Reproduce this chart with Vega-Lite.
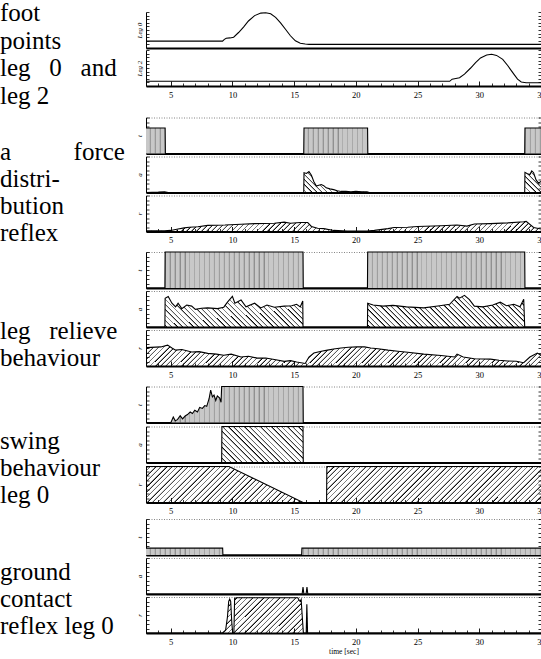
{
  "$schema": "https://vega.github.io/schema/vega-lite/v6.json",
  "padding": 0,
  "spacing": 2.5,
  "params": [
    {"name": "hatch", "value": [
      {"offset":0,"color":"#0000"},{"offset":0.008,"color":"#0000"},{"offset":0.0125,"color":"#000"},
      {"offset":0.0125,"color":"#0000"},{"offset":0.0205,"color":"#0000"},{"offset":0.025,"color":"#000"},
      {"offset":0.025,"color":"#0000"},{"offset":0.033,"color":"#0000"},{"offset":0.0375,"color":"#000"},
      {"offset":0.0375,"color":"#0000"},{"offset":0.0455,"color":"#0000"},{"offset":0.05,"color":"#000"},
      {"offset":0.05,"color":"#0000"},{"offset":0.058,"color":"#0000"},{"offset":0.0625,"color":"#000"},
      {"offset":0.0625,"color":"#0000"},{"offset":0.0705,"color":"#0000"},{"offset":0.075,"color":"#000"},
      {"offset":0.075,"color":"#0000"},{"offset":0.083,"color":"#0000"},{"offset":0.0875,"color":"#000"},
      {"offset":0.0875,"color":"#0000"},{"offset":0.0955,"color":"#0000"},{"offset":0.1,"color":"#000"},
      {"offset":0.1,"color":"#0000"},{"offset":0.108,"color":"#0000"},{"offset":0.1125,"color":"#000"},
      {"offset":0.1125,"color":"#0000"},{"offset":0.1205,"color":"#0000"},{"offset":0.125,"color":"#000"},
      {"offset":0.125,"color":"#0000"},{"offset":0.133,"color":"#0000"},{"offset":0.1375,"color":"#000"},
      {"offset":0.1375,"color":"#0000"},{"offset":0.1455,"color":"#0000"},{"offset":0.15,"color":"#000"},
      {"offset":0.15,"color":"#0000"},{"offset":0.158,"color":"#0000"},{"offset":0.1625,"color":"#000"},
      {"offset":0.1625,"color":"#0000"},{"offset":0.1705,"color":"#0000"},{"offset":0.175,"color":"#000"},
      {"offset":0.175,"color":"#0000"},{"offset":0.183,"color":"#0000"},{"offset":0.1875,"color":"#000"},
      {"offset":0.1875,"color":"#0000"},{"offset":0.1955,"color":"#0000"},{"offset":0.2,"color":"#000"},
      {"offset":0.2,"color":"#0000"},{"offset":0.208,"color":"#0000"},{"offset":0.2125,"color":"#000"},
      {"offset":0.2125,"color":"#0000"},{"offset":0.2205,"color":"#0000"},{"offset":0.225,"color":"#000"},
      {"offset":0.225,"color":"#0000"},{"offset":0.233,"color":"#0000"},{"offset":0.2375,"color":"#000"},
      {"offset":0.2375,"color":"#0000"},{"offset":0.2455,"color":"#0000"},{"offset":0.25,"color":"#000"},
      {"offset":0.25,"color":"#0000"},{"offset":0.258,"color":"#0000"},{"offset":0.2625,"color":"#000"},
      {"offset":0.2625,"color":"#0000"},{"offset":0.2705,"color":"#0000"},{"offset":0.275,"color":"#000"},
      {"offset":0.275,"color":"#0000"},{"offset":0.283,"color":"#0000"},{"offset":0.2875,"color":"#000"},
      {"offset":0.2875,"color":"#0000"},{"offset":0.2955,"color":"#0000"},{"offset":0.3,"color":"#000"},
      {"offset":0.3,"color":"#0000"},{"offset":0.308,"color":"#0000"},{"offset":0.3125,"color":"#000"},
      {"offset":0.3125,"color":"#0000"},{"offset":0.3205,"color":"#0000"},{"offset":0.325,"color":"#000"},
      {"offset":0.325,"color":"#0000"},{"offset":0.333,"color":"#0000"},{"offset":0.3375,"color":"#000"},
      {"offset":0.3375,"color":"#0000"},{"offset":0.3455,"color":"#0000"},{"offset":0.35,"color":"#000"},
      {"offset":0.35,"color":"#0000"},{"offset":0.358,"color":"#0000"},{"offset":0.3625,"color":"#000"},
      {"offset":0.3625,"color":"#0000"},{"offset":0.3705,"color":"#0000"},{"offset":0.375,"color":"#000"},
      {"offset":0.375,"color":"#0000"},{"offset":0.383,"color":"#0000"},{"offset":0.3875,"color":"#000"},
      {"offset":0.3875,"color":"#0000"},{"offset":0.3955,"color":"#0000"},{"offset":0.4,"color":"#000"},
      {"offset":0.4,"color":"#0000"},{"offset":0.408,"color":"#0000"},{"offset":0.4125,"color":"#000"},
      {"offset":0.4125,"color":"#0000"},{"offset":0.4205,"color":"#0000"},{"offset":0.425,"color":"#000"},
      {"offset":0.425,"color":"#0000"},{"offset":0.433,"color":"#0000"},{"offset":0.4375,"color":"#000"},
      {"offset":0.4375,"color":"#0000"},{"offset":0.4455,"color":"#0000"},{"offset":0.45,"color":"#000"},
      {"offset":0.45,"color":"#0000"},{"offset":0.458,"color":"#0000"},{"offset":0.4625,"color":"#000"},
      {"offset":0.4625,"color":"#0000"},{"offset":0.4705,"color":"#0000"},{"offset":0.475,"color":"#000"},
      {"offset":0.475,"color":"#0000"},{"offset":0.483,"color":"#0000"},{"offset":0.4875,"color":"#000"},
      {"offset":0.4875,"color":"#0000"},{"offset":0.4955,"color":"#0000"},{"offset":0.5,"color":"#000"},
      {"offset":0.5,"color":"#0000"},{"offset":0.508,"color":"#0000"},{"offset":0.5125,"color":"#000"},
      {"offset":0.5125,"color":"#0000"},{"offset":0.5205,"color":"#0000"},{"offset":0.525,"color":"#000"},
      {"offset":0.525,"color":"#0000"},{"offset":0.533,"color":"#0000"},{"offset":0.5375,"color":"#000"},
      {"offset":0.5375,"color":"#0000"},{"offset":0.5455,"color":"#0000"},{"offset":0.55,"color":"#000"},
      {"offset":0.55,"color":"#0000"},{"offset":0.558,"color":"#0000"},{"offset":0.5625,"color":"#000"},
      {"offset":0.5625,"color":"#0000"},{"offset":0.5705,"color":"#0000"},{"offset":0.575,"color":"#000"},
      {"offset":0.575,"color":"#0000"},{"offset":0.583,"color":"#0000"},{"offset":0.5875,"color":"#000"},
      {"offset":0.5875,"color":"#0000"},{"offset":0.5955,"color":"#0000"},{"offset":0.6,"color":"#000"},
      {"offset":0.6,"color":"#0000"},{"offset":0.608,"color":"#0000"},{"offset":0.6125,"color":"#000"},
      {"offset":0.6125,"color":"#0000"},{"offset":0.6205,"color":"#0000"},{"offset":0.625,"color":"#000"},
      {"offset":0.625,"color":"#0000"},{"offset":0.633,"color":"#0000"},{"offset":0.6375,"color":"#000"},
      {"offset":0.6375,"color":"#0000"},{"offset":0.6455,"color":"#0000"},{"offset":0.65,"color":"#000"},
      {"offset":0.65,"color":"#0000"},{"offset":0.658,"color":"#0000"},{"offset":0.6625,"color":"#000"},
      {"offset":0.6625,"color":"#0000"},{"offset":0.6705,"color":"#0000"},{"offset":0.675,"color":"#000"},
      {"offset":0.675,"color":"#0000"},{"offset":0.683,"color":"#0000"},{"offset":0.6875,"color":"#000"},
      {"offset":0.6875,"color":"#0000"},{"offset":0.6955,"color":"#0000"},{"offset":0.7,"color":"#000"},
      {"offset":0.7,"color":"#0000"},{"offset":0.708,"color":"#0000"},{"offset":0.7125,"color":"#000"},
      {"offset":0.7125,"color":"#0000"},{"offset":0.7205,"color":"#0000"},{"offset":0.725,"color":"#000"},
      {"offset":0.725,"color":"#0000"},{"offset":0.733,"color":"#0000"},{"offset":0.7375,"color":"#000"},
      {"offset":0.7375,"color":"#0000"},{"offset":0.7455,"color":"#0000"},{"offset":0.75,"color":"#000"},
      {"offset":0.75,"color":"#0000"},{"offset":0.758,"color":"#0000"},{"offset":0.7625,"color":"#000"},
      {"offset":0.7625,"color":"#0000"},{"offset":0.7705,"color":"#0000"},{"offset":0.775,"color":"#000"},
      {"offset":0.775,"color":"#0000"},{"offset":0.783,"color":"#0000"},{"offset":0.7875,"color":"#000"},
      {"offset":0.7875,"color":"#0000"},{"offset":0.7955,"color":"#0000"},{"offset":0.8,"color":"#000"},
      {"offset":0.8,"color":"#0000"},{"offset":0.808,"color":"#0000"},{"offset":0.8125,"color":"#000"},
      {"offset":0.8125,"color":"#0000"},{"offset":0.8205,"color":"#0000"},{"offset":0.825,"color":"#000"},
      {"offset":0.825,"color":"#0000"},{"offset":0.833,"color":"#0000"},{"offset":0.8375,"color":"#000"},
      {"offset":0.8375,"color":"#0000"},{"offset":0.8455,"color":"#0000"},{"offset":0.85,"color":"#000"},
      {"offset":0.85,"color":"#0000"},{"offset":0.858,"color":"#0000"},{"offset":0.8625,"color":"#000"},
      {"offset":0.8625,"color":"#0000"},{"offset":0.8705,"color":"#0000"},{"offset":0.875,"color":"#000"},
      {"offset":0.875,"color":"#0000"},{"offset":0.883,"color":"#0000"},{"offset":0.8875,"color":"#000"},
      {"offset":0.8875,"color":"#0000"},{"offset":0.8955,"color":"#0000"},{"offset":0.9,"color":"#000"},
      {"offset":0.9,"color":"#0000"},{"offset":0.908,"color":"#0000"},{"offset":0.9125,"color":"#000"},
      {"offset":0.9125,"color":"#0000"},{"offset":0.9205,"color":"#0000"},{"offset":0.925,"color":"#000"},
      {"offset":0.925,"color":"#0000"},{"offset":0.933,"color":"#0000"},{"offset":0.9375,"color":"#000"},
      {"offset":0.9375,"color":"#0000"},{"offset":0.9455,"color":"#0000"},{"offset":0.95,"color":"#000"},
      {"offset":0.95,"color":"#0000"},{"offset":0.958,"color":"#0000"},{"offset":0.9625,"color":"#000"},
      {"offset":0.9625,"color":"#0000"},{"offset":0.9705,"color":"#0000"},{"offset":0.975,"color":"#000"},
      {"offset":0.975,"color":"#0000"},{"offset":0.983,"color":"#0000"},{"offset":0.9875,"color":"#000"},
      {"offset":0.9875,"color":"#0000"},{"offset":0.9955,"color":"#0000"},{"offset":1,"color":"#000"},
      {"offset":1,"color":"#0000"}
    ]}
  ],
  "config": {
    "view": {"stroke": null},
    "font": "Liberation Serif, Times New Roman, serif",
    "axis": {"grid": false, "domainColor": "black", "tickColor": "black", "tickWidth": 0.8, "labelColor": "black", "titleColor": "black", "labelFont": "Liberation Serif, Times New Roman, serif", "titleFont": "Liberation Serif, Times New Roman, serif", "titleFontWeight": "normal", "labelFontSize": 8.5, "titleFontSize": 7}
  },
  "vconcat": [
    {
      "spacing": 7,
      "hconcat": [
        {
          "width": 128, "height": 101.5,
          "data": {"values": [{"label": "foot\npoints\nleg\u00a0\u00a0\u00a00\u00a0\u00a0\u00a0and\nleg 2"}]},
          "mark": {"type": "text", "align": "left", "baseline": "top", "lineBreak": "\n", "lineHeight": 27.5, "font": "Liberation Serif, Times New Roman, serif", "fontSize": 25, "color": "black"},
          "encoding": {
            "text": {"field": "label"},
            "x": {"datum": 0, "type": "quantitative", "scale": {"domain": [0, 1]}, "axis": null},
            "y": {"datum": -0.108, "type": "quantitative", "scale": {"domain": [0, 1], "reverse": true}, "axis": null}
          }
        },
        {
          "spacing": 0,
          "vconcat": [
            {
              "width": 395, "height": 36,
              "data": {"values": [{"x":3,"y":0.19},{"x":9.2,"y":0.19},{"x":9.35,"y":0.24},{"x":9.5,"y":0.27},{"x":9.8,"y":0.28},{"x":10.1,"y":0.3},{"x":10.5,"y":0.43},{"x":10.9,"y":0.58},{"x":11.3,"y":0.75},{"x":11.8,"y":0.9},{"x":12.3,"y":0.97},{"x":12.7,"y":0.98},{"x":13.1,"y":0.95},{"x":13.5,"y":0.85},{"x":13.9,"y":0.7},{"x":14.3,"y":0.52},{"x":14.7,"y":0.34},{"x":15.1,"y":0.2},{"x":15.5,"y":0.13},{"x":15.9,"y":0.11},{"x":16.2,"y":0.1},{"x":35,"y":0.1}]},
              "layer": [
                {"mark": {"type": "line", "color": "black", "strokeWidth": 1.1},
                 "encoding": {
                   "x": {"field": "x", "type": "quantitative", "scale": {"domain": [3, 35], "nice": false, "zero": false}, "axis": {"orient":"bottom","domainWidth":1.8,"ticks":false,"labels":false,"title":null}},
                   "y": {"field": "y", "type": "quantitative", "scale": {"domain": [0, 1], "nice": false}, "axis": {"orient":"left","domainWidth":1,"values":[0,0.1,0.2,0.3,0.4,0.5,0.6,0.7,0.8,0.9,1],"tickSize":-3,"labels":false,"title":"Leg 0","titleFontStyle":"italic","titlePadding":3}}
                 }},
                {"mark": {"type": "line", "opacity": 0},
                 "encoding": {
                   "x": {"field": "x", "type": "quantitative", "axis": {"orient":"top","domainOpacity":0,"offset":12,"ticks":false,"labels":false,"title":null}},
                   "y": {"field": "y", "type": "quantitative", "axis": {"orient":"right","domainWidth":1,"values":[0,0.1,0.2,0.3,0.4,0.5,0.6,0.7,0.8,0.9,1],"tickSize":-3,"labels":false,"title":null}}
                 }}
              ],
              "resolve": {"axis": {"x": "independent", "y": "independent"}}
            },
            {
              "width": 395, "height": 36,
              "data": {"values": [{"x":3,"y":0.13},{"x":27.6,"y":0.13},{"x":27.8,"y":0.19},{"x":28.1,"y":0.21},{"x":28.4,"y":0.23},{"x":28.8,"y":0.33},{"x":29.3,"y":0.5},{"x":29.7,"y":0.65},{"x":30.1,"y":0.78},{"x":30.6,"y":0.86},{"x":31,"y":0.88},{"x":31.4,"y":0.85},{"x":31.9,"y":0.74},{"x":32.3,"y":0.57},{"x":32.8,"y":0.33},{"x":33.1,"y":0.19},{"x":33.4,"y":0.11},{"x":33.8,"y":0.09},{"x":35,"y":0.09}]},
              "layer": [
                {"mark": {"type": "line", "color": "black", "strokeWidth": 1.1},
                 "encoding": {
                   "x": {"field": "x", "type": "quantitative", "scale": {"domain": [3, 35], "nice": false, "zero": false}, "axis": {"orient":"bottom","domainWidth":1.8,"values":[5,10,15,20,25,30,35],"tickSize":-5,"tickWidth":0.9,"labelPadding":9,"labelFlush":false,"labelOverlap":false,"title":null}},
                   "y": {"field": "y", "type": "quantitative", "scale": {"domain": [0, 1], "nice": false}, "axis": {"orient":"left","domainWidth":1,"values":[0,0.1,0.2,0.3,0.4,0.5,0.6,0.7,0.8,0.9,1],"tickSize":-3,"labels":false,"title":"Leg 2","titleFontStyle":"italic","titlePadding":3}}
                 }},
                {"mark": {"type": "line", "opacity": 0},
                 "encoding": {
                   "x": {"field": "x", "type": "quantitative", "axis": {"orient":"bottom","domain":false,"values":[4,6,7,8,9,11,12,13,14,16,17,18,19,21,22,23,24,26,27,28,29,31,32,33,34],"tickSize":-3,"labels":false,"title":null}},
                   "y": {"field": "y", "type": "quantitative", "axis": {"orient":"right","domainWidth":1,"values":[0,0.1,0.2,0.3,0.4,0.5,0.6,0.7,0.8,0.9,1],"tickSize":-3,"labels":false,"title":null}}
                 }}
              ],
              "resolve": {"axis": {"x": "independent", "y": "independent"}}
            }
          ]
        }
      ]
    },
    {
      "spacing": 7,
      "hconcat": [
        {
          "width": 128, "height": 129,
          "data": {"values": [{"label": "a\u00a0\u00a0\u00a0\u00a0\u00a0\u00a0\u00a0\u00a0\u00a0\u00a0force\ndistri-\nbution\nreflex"}]},
          "mark": {"type": "text", "clip": true, "align": "left", "baseline": "top", "lineBreak": "\n", "lineHeight": 27, "font": "Liberation Serif, Times New Roman, serif", "fontSize": 25, "color": "black"},
          "encoding": {
            "text": {"field": "label"},
            "x": {"datum": 0, "type": "quantitative", "scale": {"domain": [0, 1]}, "axis": null},
            "y": {"datum": 0.178, "type": "quantitative", "scale": {"domain": [0, 1], "reverse": true}, "axis": null}
          }
        },
        {
          "spacing": -2,
          "vconcat": [
            {
              "width": 395, "height": 36,
              "data": {"values": [{"x":3,"y":0.71},{"x":4.55,"y":0.71},{"x":4.57,"y":0},{"x":15.78,"y":0},{"x":15.8,"y":0.71},{"x":20.95,"y":0.71},{"x":20.97,"y":0},{"x":33.68,"y":0},{"x":33.7,"y":0.71},{"x":35,"y":0.71}]},
              "layer": [
                {"mark": {"type": "area", "color": "#c8c8c8"},
                 "encoding": {
                   "x": {"field": "x", "type": "quantitative", "scale": {"domain": [3, 35], "nice": false, "zero": false}, "axis": {"orient":"bottom","domainWidth":1.8,"ticks":false,"labels":false,"title":null}},
                   "y": {"field": "y", "type": "quantitative", "stack": null, "scale": {"domain": [0, 1], "nice": false}, "axis": {"orient":"left","domainWidth":1,"values":[0,0.125,0.25,0.375,0.5,0.625,0.75,0.875,1],"tickSize":-3,"labels":false,"title":"t","titleFontStyle":"italic","titlePadding":3}}
                 }},
                {"mark": {"type": "area", "fill": {"expr": "{gradient: 'linear', x1: 0, y1: 0, x2: 1, y2: 0, stops: hatch}"}, "fillOpacity": 0.3},
                 "encoding": {"x": {"field": "x", "type": "quantitative", "axis": null}, "y": {"field": "y", "type": "quantitative", "stack": null, "axis": null}}},
                {"mark": {"type": "line", "color": "black", "strokeWidth": 1.1},
                 "encoding": {
                   "x": {"field": "x", "type": "quantitative", "axis": {"orient":"top","domainColor":"#666","domainWidth":0.8,"domainDash":[1,1.5],"ticks":false,"labels":false,"title":null}},
                   "y": {"field": "y", "type": "quantitative", "axis": {"orient":"right","domainWidth":1,"values":[0,0.125,0.25,0.375,0.5,0.625,0.75,0.875,1],"tickSize":-3,"labels":false,"title":null}}
                 }}
              ],
              "resolve": {"axis": {"x": "independent", "y": "independent"}}
            },
            {
              "width": 395, "height": 36,
              "data": {"values": [{"x":3,"y":0},{"x":4,"y":0.01},{"x":4.5,"y":0.02},{"x":4.8,"y":0},{"x":15.78,"y":0},{"x":15.8,"y":0.55},{"x":16,"y":0.53},{"x":16.2,"y":0.58},{"x":16.4,"y":0.48},{"x":16.6,"y":0.3},{"x":16.8,"y":0.18},{"x":17,"y":0.2},{"x":17.2,"y":0.22},{"x":17.4,"y":0.19},{"x":17.6,"y":0.13},{"x":17.9,"y":0.1},{"x":18.2,"y":0.08},{"x":18.5,"y":0.05},{"x":18.8,"y":0.03},{"x":19.2,"y":0.03},{"x":19.6,"y":0.02},{"x":20,"y":0.03},{"x":20.5,"y":0.02},{"x":20.9,"y":0.02},{"x":21.1,"y":0},{"x":33.68,"y":0},{"x":33.7,"y":0.56},{"x":33.9,"y":0.52},{"x":34.1,"y":0.5},{"x":34.25,"y":0.6},{"x":34.4,"y":0.55},{"x":34.6,"y":0.35},{"x":34.8,"y":0.26},{"x":35,"y":0.31}]},
              "layer": [
                {"mark": {"type": "area", "fill": {"expr": "{gradient: 'linear', x1: 0, y1: 1, x2: 1.0516, y2: 0.9425, stops: hatch}"}},
                 "encoding": {
                   "x": {"field": "x", "type": "quantitative", "scale": {"domain": [3, 35], "nice": false, "zero": false}, "axis": {"orient":"bottom","domainWidth":1.8,"ticks":false,"labels":false,"title":null}},
                   "y": {"field": "y", "type": "quantitative", "stack": null, "scale": {"domain": [0, 1], "nice": false}, "axis": {"orient":"left","domainWidth":1,"values":[0,0.125,0.25,0.375,0.5,0.625,0.75,0.875,1],"tickSize":-3,"labels":false,"title":"a","titleFontStyle":"italic","titlePadding":3}}
                 }},
                {"mark": {"type": "line", "color": "black", "strokeWidth": 1.1},
                 "encoding": {
                   "x": {"field": "x", "type": "quantitative", "axis": {"orient":"top","domainColor":"#666","domainWidth":0.8,"domainDash":[1,1.5],"ticks":false,"labels":false,"title":null}},
                   "y": {"field": "y", "type": "quantitative", "axis": {"orient":"right","domainWidth":1,"values":[0,0.125,0.25,0.375,0.5,0.625,0.75,0.875,1],"tickSize":-3,"labels":false,"title":null}}
                 }}
              ],
              "resolve": {"axis": {"x": "independent", "y": "independent"}}
            },
            {
              "width": 395, "height": 36,
              "data": {"values": [{"x":3,"y":0.02},{"x":4.5,"y":0.02},{"x":5,"y":0.03},{"x":5.6,"y":0.07},{"x":6.1,"y":0.1},{"x":6.5,"y":0.12},{"x":7.2,"y":0.13},{"x":8,"y":0.17},{"x":9.4,"y":0.18},{"x":10.7,"y":0.2},{"x":11.8,"y":0.22},{"x":13.4,"y":0.23},{"x":14.2,"y":0.26},{"x":14.7,"y":0.23},{"x":15.5,"y":0.25},{"x":16.1,"y":0.25},{"x":16.4,"y":0.14},{"x":16.9,"y":0.09},{"x":17.4,"y":0.08},{"x":18.2,"y":0.03},{"x":19.3,"y":0.01},{"x":20.9,"y":0.01},{"x":21.5,"y":0.03},{"x":22.6,"y":0.08},{"x":23.1,"y":0.11},{"x":24.2,"y":0.12},{"x":25,"y":0.14},{"x":26.9,"y":0.16},{"x":28.2,"y":0.18},{"x":29,"y":0.15},{"x":29.6,"y":0.21},{"x":30.9,"y":0.22},{"x":32.3,"y":0.24},{"x":33.6,"y":0.27},{"x":33.8,"y":0.28},{"x":34.4,"y":0.11},{"x":35,"y":0.07}]},
              "layer": [
                {"mark": {"type": "area", "fill": {"expr": "{gradient: 'linear', x1: 0, y1: 0, x2: 1.0246, y2: 0.0259, stops: hatch}"}},
                 "encoding": {
                   "x": {"field": "x", "type": "quantitative", "scale": {"domain": [3, 35], "nice": false, "zero": false}, "axis": {"orient":"bottom","domainWidth":1.8,"values":[5,10,15,20,25,30,35],"tickSize":-5,"tickWidth":0.9,"labelPadding":9,"labelFlush":false,"labelOverlap":false,"title":null}},
                   "y": {"field": "y", "type": "quantitative", "stack": null, "scale": {"domain": [0, 1], "nice": false}, "axis": {"orient":"left","domainWidth":1,"values":[0,0.125,0.25,0.375,0.5,0.625,0.75,0.875,1],"tickSize":-3,"labels":false,"title":"r","titleFontStyle":"italic","titlePadding":3}}
                 }},
                {"mark": {"type": "line", "color": "black", "strokeWidth": 1.1},
                 "encoding": {
                   "x": {"field": "x", "type": "quantitative", "axis": {"orient":"top","domainColor":"#666","domainWidth":0.8,"domainDash":[1,1.5],"ticks":false,"labels":false,"title":null}},
                   "y": {"field": "y", "type": "quantitative", "axis": {"orient":"right","domainWidth":1,"values":[0,0.125,0.25,0.375,0.5,0.625,0.75,0.875,1],"tickSize":-3,"labels":false,"title":null}}
                 }},
                {"mark": {"type": "line", "opacity": 0},
                 "encoding": {
                   "x": {"field": "x", "type": "quantitative", "axis": {"orient":"bottom","domain":false,"values":[4,6,7,8,9,11,12,13,14,16,17,18,19,21,22,23,24,26,27,28,29,31,32,33,34],"tickSize":-3,"labels":false,"title":null}},
                   "y": {"field": "y", "type": "quantitative", "axis": null}
                 }}
              ],
              "resolve": {"axis": {"x": "independent", "y": "independent"}}
            }
          ]
        }
      ]
    },
    {
      "spacing": 7,
      "hconcat": [
        {
          "width": 128, "height": 129,
          "data": {"values": [{"label": "leg\u00a0\u00a0\u00a0relieve\nbehaviour"}]},
          "mark": {"type": "text", "clip": true, "align": "left", "baseline": "top", "lineBreak": "\n", "lineHeight": 27, "font": "Liberation Serif, Times New Roman, serif", "fontSize": 25, "color": "black"},
          "encoding": {
            "text": {"field": "label"},
            "x": {"datum": 0, "type": "quantitative", "scale": {"domain": [0, 1]}, "axis": null},
            "y": {"datum": 0.519, "type": "quantitative", "scale": {"domain": [0, 1], "reverse": true}, "axis": null}
          }
        },
        {
          "spacing": -2,
          "vconcat": [
            {
              "width": 395, "height": 36,
              "data": {"values": [{"x":3,"y":0},{"x":4.53,"y":0},{"x":4.55,"y":1},{"x":15.72,"y":1},{"x":15.74,"y":0},{"x":20.94,"y":0},{"x":20.96,"y":1},{"x":33.68,"y":1},{"x":33.7,"y":0},{"x":35,"y":0}]},
              "layer": [
                {"mark": {"type": "area", "color": "#c8c8c8"},
                 "encoding": {
                   "x": {"field": "x", "type": "quantitative", "scale": {"domain": [3, 35], "nice": false, "zero": false}, "axis": {"orient":"bottom","domainWidth":1.8,"ticks":false,"labels":false,"title":null}},
                   "y": {"field": "y", "type": "quantitative", "stack": null, "scale": {"domain": [0, 1], "nice": false}, "axis": {"orient":"left","domainWidth":1,"values":[0,0.125,0.25,0.375,0.5,0.625,0.75,0.875,1],"tickSize":-3,"labels":false,"title":"t","titleFontStyle":"italic","titlePadding":3}}
                 }},
                {"mark": {"type": "area", "fill": {"expr": "{gradient: 'linear', x1: 0, y1: 0, x2: 1, y2: 0, stops: hatch}"}, "fillOpacity": 0.3},
                 "encoding": {"x": {"field": "x", "type": "quantitative", "axis": null}, "y": {"field": "y", "type": "quantitative", "stack": null, "axis": null}}},
                {"mark": {"type": "line", "color": "black", "strokeWidth": 1.1},
                 "encoding": {
                   "x": {"field": "x", "type": "quantitative", "axis": {"orient":"top","domainColor":"#666","domainWidth":0.8,"domainDash":[1,1.5],"ticks":false,"labels":false,"title":null}},
                   "y": {"field": "y", "type": "quantitative", "axis": {"orient":"right","domainWidth":1,"values":[0,0.125,0.25,0.375,0.5,0.625,0.75,0.875,1],"tickSize":-3,"labels":false,"title":null}}
                 }}
              ],
              "resolve": {"axis": {"x": "independent", "y": "independent"}}
            },
            {
              "width": 395, "height": 36,
              "data": {"values": [{"x":3,"y":0},{"x":4.53,"y":0},{"x":4.55,"y":0.8},{"x":4.8,"y":0.85},{"x":5.1,"y":0.66},{"x":5.4,"y":0.56},{"x":5.6,"y":0.66},{"x":5.9,"y":0.51},{"x":6.3,"y":0.61},{"x":6.7,"y":0.58},{"x":7,"y":0.49},{"x":7.5,"y":0.52},{"x":8,"y":0.53},{"x":8.8,"y":0.51},{"x":9.3,"y":0.55},{"x":9.6,"y":0.69},{"x":10,"y":0.85},{"x":10.2,"y":0.66},{"x":10.7,"y":0.75},{"x":11.1,"y":0.56},{"x":11.8,"y":0.66},{"x":12.3,"y":0.53},{"x":12.8,"y":0.61},{"x":13.4,"y":0.55},{"x":14.2,"y":0.58},{"x":14.8,"y":0.59},{"x":15.2,"y":0.63},{"x":15.5,"y":0.56},{"x":15.7,"y":0.72},{"x":15.72,"y":0},{"x":20.94,"y":0},{"x":20.96,"y":0.66},{"x":21.4,"y":0.61},{"x":22.2,"y":0.58},{"x":23,"y":0.6},{"x":24.1,"y":0.56},{"x":25.5,"y":0.53},{"x":26.8,"y":0.59},{"x":27.6,"y":0.63},{"x":28.2,"y":0.85},{"x":28.4,"y":0.8},{"x":28.8,"y":0.88},{"x":29.2,"y":0.76},{"x":29.6,"y":0.58},{"x":30.3,"y":0.56},{"x":31.1,"y":0.61},{"x":31.7,"y":0.69},{"x":32.2,"y":0.59},{"x":32.8,"y":0.63},{"x":33.3,"y":0.56},{"x":33.6,"y":0.77},{"x":33.68,"y":0},{"x":35,"y":0}]},
              "layer": [
                {"mark": {"type": "area", "fill": {"expr": "{gradient: 'linear', x1: 0, y1: 1, x2: 1.0734, y2: 0.9138, stops: hatch}"}},
                 "encoding": {
                   "x": {"field": "x", "type": "quantitative", "scale": {"domain": [3, 35], "nice": false, "zero": false}, "axis": {"orient":"bottom","domainWidth":1.8,"ticks":false,"labels":false,"title":null}},
                   "y": {"field": "y", "type": "quantitative", "stack": null, "scale": {"domain": [0, 1], "nice": false}, "axis": {"orient":"left","domainWidth":1,"values":[0,0.125,0.25,0.375,0.5,0.625,0.75,0.875,1],"tickSize":-3,"labels":false,"title":"a","titleFontStyle":"italic","titlePadding":3}}
                 }},
                {"mark": {"type": "line", "color": "black", "strokeWidth": 1.1},
                 "encoding": {
                   "x": {"field": "x", "type": "quantitative", "axis": {"orient":"top","domainColor":"#666","domainWidth":0.8,"domainDash":[1,1.5],"ticks":false,"labels":false,"title":null}},
                   "y": {"field": "y", "type": "quantitative", "axis": {"orient":"right","domainWidth":1,"values":[0,0.125,0.25,0.375,0.5,0.625,0.75,0.875,1],"tickSize":-3,"labels":false,"title":null}}
                 }}
              ],
              "resolve": {"axis": {"x": "independent", "y": "independent"}}
            },
            {
              "width": 395, "height": 36,
              "data": {"values": [{"x":3,"y":0.51},{"x":4.2,"y":0.53},{"x":4.75,"y":0.58},{"x":5.1,"y":0.5},{"x":5.4,"y":0.44},{"x":5.9,"y":0.46},{"x":6.7,"y":0.39},{"x":7.3,"y":0.4},{"x":8,"y":0.35},{"x":8.7,"y":0.33},{"x":9.3,"y":0.3},{"x":9.9,"y":0.33},{"x":10.7,"y":0.25},{"x":11.3,"y":0.27},{"x":12,"y":0.22},{"x":12.7,"y":0.22},{"x":13.4,"y":0.18},{"x":14.2,"y":0.13},{"x":14.7,"y":0.15},{"x":15.2,"y":0.11},{"x":15.9,"y":0.07},{"x":16.2,"y":0.25},{"x":16.6,"y":0.36},{"x":17.2,"y":0.41},{"x":17.7,"y":0.44},{"x":18.2,"y":0.47},{"x":18.8,"y":0.5},{"x":19.4,"y":0.52},{"x":20.1,"y":0.53},{"x":20.7,"y":0.53},{"x":21.2,"y":0.5},{"x":21.8,"y":0.48},{"x":22.6,"y":0.44},{"x":23.4,"y":0.41},{"x":24.2,"y":0.38},{"x":25.5,"y":0.33},{"x":26.9,"y":0.29},{"x":28,"y":0.25},{"x":28.2,"y":0.33},{"x":28.7,"y":0.25},{"x":29.6,"y":0.2},{"x":30.9,"y":0.19},{"x":31.6,"y":0.16},{"x":32.3,"y":0.14},{"x":33,"y":0.13},{"x":33.6,"y":0.09},{"x":34.1,"y":0.25},{"x":34.7,"y":0.36},{"x":35,"y":0.3}]},
              "layer": [
                {"mark": {"type": "area", "fill": {"expr": "{gradient: 'linear', x1: 0, y1: 0, x2: 1.0502, y2: 0.0559, stops: hatch}"}},
                 "encoding": {
                   "x": {"field": "x", "type": "quantitative", "scale": {"domain": [3, 35], "nice": false, "zero": false}, "axis": {"orient":"bottom","domainWidth":1.8,"values":[5,10,15,20,25,30,35],"tickSize":-5,"tickWidth":0.9,"labelPadding":9,"labelFlush":false,"labelOverlap":false,"title":null}},
                   "y": {"field": "y", "type": "quantitative", "stack": null, "scale": {"domain": [0, 1], "nice": false}, "axis": {"orient":"left","domainWidth":1,"values":[0,0.125,0.25,0.375,0.5,0.625,0.75,0.875,1],"tickSize":-3,"labels":false,"title":"r","titleFontStyle":"italic","titlePadding":3}}
                 }},
                {"mark": {"type": "line", "color": "black", "strokeWidth": 1.1},
                 "encoding": {
                   "x": {"field": "x", "type": "quantitative", "axis": {"orient":"top","domainColor":"#666","domainWidth":0.8,"domainDash":[1,1.5],"ticks":false,"labels":false,"title":null}},
                   "y": {"field": "y", "type": "quantitative", "axis": {"orient":"right","domainWidth":1,"values":[0,0.125,0.25,0.375,0.5,0.625,0.75,0.875,1],"tickSize":-3,"labels":false,"title":null}}
                 }},
                {"mark": {"type": "line", "opacity": 0},
                 "encoding": {
                   "x": {"field": "x", "type": "quantitative", "axis": {"orient":"bottom","domain":false,"values":[4,6,7,8,9,11,12,13,14,16,17,18,19,21,22,23,24,26,27,28,29,31,32,33,34],"tickSize":-3,"labels":false,"title":null}},
                   "y": {"field": "y", "type": "quantitative", "axis": null}
                 }}
              ],
              "resolve": {"axis": {"x": "independent", "y": "independent"}}
            }
          ]
        }
      ]
    },
    {
      "spacing": 7,
      "hconcat": [
        {
          "width": 128, "height": 129,
          "data": {"values": [{"label": "swing\nbehaviour\nleg 0"}]},
          "mark": {"type": "text", "clip": true, "align": "left", "baseline": "top", "lineBreak": "\n", "lineHeight": 27, "font": "Liberation Serif, Times New Roman, serif", "fontSize": 25, "color": "black"},
          "encoding": {
            "text": {"field": "label"},
            "x": {"datum": 0, "type": "quantitative", "scale": {"domain": [0, 1]}, "axis": null},
            "y": {"datum": 0.326, "type": "quantitative", "scale": {"domain": [0, 1], "reverse": true}, "axis": null}
          }
        },
        {
          "spacing": -2,
          "vconcat": [
            {
              "width": 395, "height": 36,
              "data": {"values": [{"x":3,"y":0},{"x":5.02,"y":0},{"x":5.21,"y":0.155},{"x":5.37,"y":0.05},{"x":5.55,"y":0.08},{"x":5.77,"y":0.19},{"x":5.96,"y":0.1},{"x":6.17,"y":0.18},{"x":6.36,"y":0.22},{"x":6.58,"y":0.29},{"x":6.76,"y":0.25},{"x":6.95,"y":0.34},{"x":7.17,"y":0.29},{"x":7.35,"y":0.42},{"x":7.57,"y":0.39},{"x":7.76,"y":0.47},{"x":7.92,"y":0.45},{"x":8.11,"y":0.66},{"x":8.24,"y":0.9},{"x":8.38,"y":0.71},{"x":8.51,"y":0.76},{"x":8.65,"y":0.61},{"x":8.78,"y":0.74},{"x":8.97,"y":0.68},{"x":9.08,"y":0.56},{"x":9.13,"y":1},{"x":15.72,"y":1},{"x":15.74,"y":0},{"x":35,"y":0}]},
              "layer": [
                {"mark": {"type": "area", "color": "#c8c8c8"},
                 "encoding": {
                   "x": {"field": "x", "type": "quantitative", "scale": {"domain": [3, 35], "nice": false, "zero": false}, "axis": {"orient":"bottom","domainWidth":1.8,"ticks":false,"labels":false,"title":null}},
                   "y": {"field": "y", "type": "quantitative", "stack": null, "scale": {"domain": [0, 1], "nice": false}, "axis": {"orient":"left","domainWidth":1,"values":[0,0.125,0.25,0.375,0.5,0.625,0.75,0.875,1],"tickSize":-3,"labels":false,"title":"t","titleFontStyle":"italic","titlePadding":3}}
                 }},
                {"mark": {"type": "area", "fill": {"expr": "{gradient: 'linear', x1: 0, y1: 0, x2: 1, y2: 0, stops: hatch}"}, "fillOpacity": 0.3},
                 "encoding": {"x": {"field": "x", "type": "quantitative", "axis": null}, "y": {"field": "y", "type": "quantitative", "stack": null, "axis": null}}},
                {"mark": {"type": "line", "color": "black", "strokeWidth": 1.1},
                 "encoding": {
                   "x": {"field": "x", "type": "quantitative", "axis": {"orient":"top","domainColor":"#666","domainWidth":0.8,"domainDash":[1,1.5],"ticks":false,"labels":false,"title":null}},
                   "y": {"field": "y", "type": "quantitative", "axis": {"orient":"right","domainWidth":1,"values":[0,0.125,0.25,0.375,0.5,0.625,0.75,0.875,1],"tickSize":-3,"labels":false,"title":null}}
                 }}
              ],
              "resolve": {"axis": {"x": "independent", "y": "independent"}}
            },
            {
              "width": 395, "height": 36,
              "data": {"values": [{"x":3,"y":0},{"x":9.13,"y":0},{"x":9.15,"y":1},{"x":15.72,"y":1},{"x":15.74,"y":0},{"x":35,"y":0}]},
              "layer": [
                {"mark": {"type": "area", "fill": {"expr": "{gradient: 'linear', x1: 0, y1: 1, x2: 1.0821, y2: 0.9014, stops: hatch}"}},
                 "encoding": {
                   "x": {"field": "x", "type": "quantitative", "scale": {"domain": [3, 35], "nice": false, "zero": false}, "axis": {"orient":"bottom","domainWidth":1.8,"ticks":false,"labels":false,"title":null}},
                   "y": {"field": "y", "type": "quantitative", "stack": null, "scale": {"domain": [0, 1], "nice": false}, "axis": {"orient":"left","domainWidth":1,"values":[0,0.125,0.25,0.375,0.5,0.625,0.75,0.875,1],"tickSize":-3,"labels":false,"title":"a","titleFontStyle":"italic","titlePadding":3}}
                 }},
                {"mark": {"type": "line", "color": "black", "strokeWidth": 1.1},
                 "encoding": {
                   "x": {"field": "x", "type": "quantitative", "axis": {"orient":"top","domainColor":"#666","domainWidth":0.8,"domainDash":[1,1.5],"ticks":false,"labels":false,"title":null}},
                   "y": {"field": "y", "type": "quantitative", "axis": {"orient":"right","domainWidth":1,"values":[0,0.125,0.25,0.375,0.5,0.625,0.75,0.875,1],"tickSize":-3,"labels":false,"title":null}}
                 }}
              ],
              "resolve": {"axis": {"x": "independent", "y": "independent"}}
            },
            {
              "width": 395, "height": 36,
              "data": {"values": [{"x":3,"y":1},{"x":9.72,"y":1},{"x":15.72,"y":0},{"x":17.63,"y":0},{"x":17.65,"y":1},{"x":35,"y":1}]},
              "layer": [
                {"mark": {"type": "area", "fill": {"expr": "{gradient: 'linear', x1: 0, y1: 0, x2: 1.0821, y2: 0.0986, stops: hatch}"}},
                 "encoding": {
                   "x": {"field": "x", "type": "quantitative", "scale": {"domain": [3, 35], "nice": false, "zero": false}, "axis": {"orient":"bottom","domainWidth":1.8,"values":[5,10,15,20,25,30,35],"tickSize":-5,"tickWidth":0.9,"labelPadding":9,"labelFlush":false,"labelOverlap":false,"title":null}},
                   "y": {"field": "y", "type": "quantitative", "stack": null, "scale": {"domain": [0, 1], "nice": false}, "axis": {"orient":"left","domainWidth":1,"values":[0,0.125,0.25,0.375,0.5,0.625,0.75,0.875,1],"tickSize":-3,"labels":false,"title":"r","titleFontStyle":"italic","titlePadding":3}}
                 }},
                {"mark": {"type": "line", "color": "black", "strokeWidth": 1.1},
                 "encoding": {
                   "x": {"field": "x", "type": "quantitative", "axis": {"orient":"top","domainColor":"#666","domainWidth":0.8,"domainDash":[1,1.5],"ticks":false,"labels":false,"title":null}},
                   "y": {"field": "y", "type": "quantitative", "axis": {"orient":"right","domainWidth":1,"values":[0,0.125,0.25,0.375,0.5,0.625,0.75,0.875,1],"tickSize":-3,"labels":false,"title":null}}
                 }},
                {"mark": {"type": "line", "opacity": 0},
                 "encoding": {
                   "x": {"field": "x", "type": "quantitative", "axis": {"orient":"bottom","domain":false,"values":[4,6,7,8,9,11,12,13,14,16,17,18,19,21,22,23,24,26,27,28,29,31,32,33,34],"tickSize":-3,"labels":false,"title":null}},
                   "y": {"field": "y", "type": "quantitative", "axis": null}
                 }}
              ],
              "resolve": {"axis": {"x": "independent", "y": "independent"}}
            }
          ]
        }
      ]
    },
    {
      "spacing": 7,
      "hconcat": [
        {
          "width": 128, "height": 129,
          "data": {"values": [{"label": "ground\ncontact\nreflex leg 0"}]},
          "mark": {"type": "text", "clip": true, "align": "left", "baseline": "top", "lineBreak": "\n", "lineHeight": 27, "font": "Liberation Serif, Times New Roman, serif", "fontSize": 25, "color": "black"},
          "encoding": {
            "text": {"field": "label"},
            "x": {"datum": 0, "type": "quantitative", "scale": {"domain": [0, 1]}, "axis": null},
            "y": {"datum": 0.318, "type": "quantitative", "scale": {"domain": [0, 1], "reverse": true}, "axis": null}
          }
        },
        {
          "spacing": -2,
          "vconcat": [
            {
              "width": 395, "height": 36,
              "data": {"values": [{"x":3,"y":0.19},{"x":9.21,"y":0.19},{"x":9.23,"y":0},{"x":15.61,"y":0},{"x":15.63,"y":0.19},{"x":35,"y":0.19}]},
              "layer": [
                {"mark": {"type": "area", "color": "#c8c8c8"},
                 "encoding": {
                   "x": {"field": "x", "type": "quantitative", "scale": {"domain": [3, 35], "nice": false, "zero": false}, "axis": {"orient":"bottom","domainWidth":1.8,"ticks":false,"labels":false,"title":null}},
                   "y": {"field": "y", "type": "quantitative", "stack": null, "scale": {"domain": [0, 1], "nice": false}, "axis": {"orient":"left","domainWidth":1,"values":[0,0.125,0.25,0.375,0.5,0.625,0.75,0.875,1],"tickSize":-3,"labels":false,"title":"t","titleFontStyle":"italic","titlePadding":3}}
                 }},
                {"mark": {"type": "area", "fill": {"expr": "{gradient: 'linear', x1: 0, y1: 0, x2: 1, y2: 0, stops: hatch}"}, "fillOpacity": 0.3},
                 "encoding": {"x": {"field": "x", "type": "quantitative", "axis": null}, "y": {"field": "y", "type": "quantitative", "stack": null, "axis": null}}},
                {"mark": {"type": "line", "color": "black", "strokeWidth": 1.1},
                 "encoding": {
                   "x": {"field": "x", "type": "quantitative", "axis": {"orient":"top","domainColor":"#666","domainWidth":0.8,"domainDash":[1,1.5],"ticks":false,"labels":false,"title":null}},
                   "y": {"field": "y", "type": "quantitative", "axis": {"orient":"right","domainWidth":1,"values":[0,0.125,0.25,0.375,0.5,0.625,0.75,0.875,1],"tickSize":-3,"labels":false,"title":null}}
                 }}
              ],
              "resolve": {"axis": {"x": "independent", "y": "independent"}}
            },
            {
              "width": 395, "height": 36,
              "data": {"values": [{"x":3,"y":0},{"x":15.65,"y":0},{"x":15.72,"y":0.19},{"x":15.79,"y":0},{"x":15.97,"y":0},{"x":16.04,"y":0.19},{"x":16.11,"y":0},{"x":35,"y":0}]},
              "layer": [
                {"mark": {"type": "area", "fill": {"expr": "{gradient: 'linear', x1: 0, y1: 1, x2: 1.0169, y2: 0.9825, stops: hatch}"}},
                 "encoding": {
                   "x": {"field": "x", "type": "quantitative", "scale": {"domain": [3, 35], "nice": false, "zero": false}, "axis": {"orient":"bottom","domainWidth":1.8,"ticks":false,"labels":false,"title":null}},
                   "y": {"field": "y", "type": "quantitative", "stack": null, "scale": {"domain": [0, 1], "nice": false}, "axis": {"orient":"left","domainWidth":1,"values":[0,0.125,0.25,0.375,0.5,0.625,0.75,0.875,1],"tickSize":-3,"labels":false,"title":"a","titleFontStyle":"italic","titlePadding":3}}
                 }},
                {"mark": {"type": "line", "color": "black", "strokeWidth": 1.1},
                 "encoding": {
                   "x": {"field": "x", "type": "quantitative", "axis": {"orient":"top","domainColor":"#666","domainWidth":0.8,"domainDash":[1,1.5],"ticks":false,"labels":false,"title":null}},
                   "y": {"field": "y", "type": "quantitative", "axis": {"orient":"right","domainWidth":1,"values":[0,0.125,0.25,0.375,0.5,0.625,0.75,0.875,1],"tickSize":-3,"labels":false,"title":null}}
                 }}
              ],
              "resolve": {"axis": {"x": "independent", "y": "independent"}}
            },
            {
              "width": 395, "height": 36,
              "data": {"values": [{"x":3,"y":0},{"x":9.2,"y":0},{"x":9.45,"y":0.08},{"x":9.6,"y":0.45},{"x":9.7,"y":0.88},{"x":9.78,"y":0.94},{"x":9.86,"y":0.88},{"x":9.95,"y":0.3},{"x":10.02,"y":0},{"x":10.12,"y":0},{"x":10.18,"y":0.96},{"x":10.35,"y":0.98},{"x":15.3,"y":0.98},{"x":15.42,"y":0.9},{"x":15.5,"y":0.88},{"x":15.57,"y":0.93},{"x":15.65,"y":0.5},{"x":15.75,"y":0},{"x":15.98,"y":0},{"x":16.03,"y":0.8},{"x":16.09,"y":0},{"x":35,"y":0}]},
              "layer": [
                {"mark": {"type": "area", "fill": {"expr": "{gradient: 'linear', x1: 0, y1: 0, x2: 1.081, y2: 0.097, stops: hatch}"}},
                 "encoding": {
                   "x": {"field": "x", "type": "quantitative", "scale": {"domain": [3, 35], "nice": false, "zero": false}, "axis": {"orient":"bottom","domainWidth":1.8,"values":[5,10,15,20,25,30,35],"tickSize":-5,"tickWidth":0.9,"labelPadding":9,"labelFlush":false,"labelOverlap":false,"title":"time [sec]","titleFontSize":7.5,"titlePadding":2}},
                   "y": {"field": "y", "type": "quantitative", "stack": null, "scale": {"domain": [0, 1], "nice": false}, "axis": {"orient":"left","domainWidth":1,"values":[0,0.125,0.25,0.375,0.5,0.625,0.75,0.875,1],"tickSize":-3,"labels":false,"title":"r","titleFontStyle":"italic","titlePadding":3}}
                 }},
                {"mark": {"type": "line", "color": "black", "strokeWidth": 1.1},
                 "encoding": {
                   "x": {"field": "x", "type": "quantitative", "axis": {"orient":"top","domainColor":"#666","domainWidth":0.8,"domainDash":[1,1.5],"ticks":false,"labels":false,"title":null}},
                   "y": {"field": "y", "type": "quantitative", "axis": {"orient":"right","domainWidth":1,"values":[0,0.125,0.25,0.375,0.5,0.625,0.75,0.875,1],"tickSize":-3,"labels":false,"title":null}}
                 }},
                {"mark": {"type": "line", "opacity": 0},
                 "encoding": {
                   "x": {"field": "x", "type": "quantitative", "axis": {"orient":"bottom","domain":false,"values":[4,6,7,8,9,11,12,13,14,16,17,18,19,21,22,23,24,26,27,28,29,31,32,33,34],"tickSize":-3,"labels":false,"title":null}},
                   "y": {"field": "y", "type": "quantitative", "axis": null}
                 }}
              ],
              "resolve": {"axis": {"x": "independent", "y": "independent"}}
            }
          ]
        }
      ]
    }
  ]
}
